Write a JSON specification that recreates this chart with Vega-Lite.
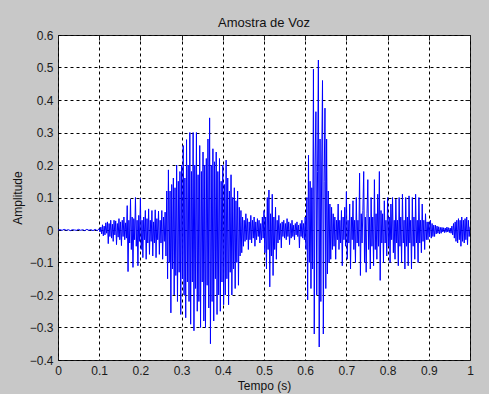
{
  "$schema": "https://vega.github.io/schema/vega-lite/v6.json",
  "autosize": {"type": "none"},
  "width": 412,
  "height": 325,
  "padding": {"left": 58, "top": 35, "right": 19, "bottom": 34},
  "background": "#c8c8c8",
  "view": {"fill": "white", "stroke": "#1a1a1a", "strokeWidth": 1},
  "title": {
    "text": "Amostra de Voz",
    "font": "Liberation Sans",
    "fontSize": 13,
    "fontWeight": "normal",
    "color": "#111",
    "offset": -1
  },
  "data": {
    "values": [
      {"t":0,"a":0},{"t":0.005,"a":0.001},{"t":0.01,"a":-0.001},{"t":0.015,"a":0.002},{"t":0.02,"a":-0.001},
      {"t":0.025,"a":0.001},{"t":0.03,"a":-0.002},{"t":0.035,"a":0.001},{"t":0.04,"a":0},{"t":0.045,"a":-0.001},
      {"t":0.05,"a":0.002},{"t":0.055,"a":-0.001},{"t":0.06,"a":0.001},{"t":0.065,"a":-0.002},{"t":0.07,"a":0.002},
      {"t":0.075,"a":-0.001},{"t":0.08,"a":0.001},{"t":0.085,"a":-0.002},{"t":0.09,"a":0.002},{"t":0.095,"a":-0.002},
      {"t":0.100,"a":0.004},{"t":0.102,"a":-0.006},{"t":0.104,"a":0.009},{"t":0.106,"a":-0.012},{"t":0.108,"a":0.016},
      {"t":0.110,"a":-0.018},{"t":0.112,"a":0.012},{"t":0.114,"a":-0.015},{"t":0.116,"a":0.022},{"t":0.118,"a":-0.01},
      {"t":0.120,"a":0.025},{"t":0.122,"a":-0.042},{"t":0.124,"a":0.02},{"t":0.126,"a":-0.02},{"t":0.128,"a":0.03},
      {"t":0.130,"a":-0.025},{"t":0.132,"a":0.018},{"t":0.134,"a":-0.035},{"t":0.136,"a":0.03},{"t":0.138,"a":-0.015},
      {"t":0.140,"a":0.028},{"t":0.142,"a":-0.045},{"t":0.144,"a":0.02},{"t":0.146,"a":-0.022},{"t":0.148,"a":0.035},
      {"t":0.150,"a":-0.03},{"t":0.152,"a":0.025},{"t":0.154,"a":-0.048},{"t":0.156,"a":0.03},{"t":0.158,"a":-0.02},
      {"t":0.160,"a":0.04},{"t":0.162,"a":-0.03},{"t":0.164,"a":0.022},{"t":0.166,"a":-0.025},
      {"t":0.168,"a":0.075},{"t":0.170,"a":-0.128},{"t":0.172,"a":0.03},{"t":0.174,"a":-0.04},{"t":0.176,"a":0.095},
      {"t":0.178,"a":-0.06},{"t":0.180,"a":0.04},{"t":0.182,"a":-0.115},{"t":0.184,"a":0.035},{"t":0.186,"a":-0.03},
      {"t":0.188,"a":0.1},{"t":0.190,"a":-0.05},{"t":0.192,"a":0.03},{"t":0.194,"a":-0.11},{"t":0.196,"a":0.045},
      {"t":0.198,"a":-0.035},{"t":0.200,"a":0.098},{"t":0.202,"a":-0.06},{"t":0.204,"a":0.03},{"t":0.206,"a":-0.085},
      {"t":0.208,"a":0.04},{"t":0.210,"a":-0.03},{"t":0.212,"a":0.06},{"t":0.214,"a":-0.09},{"t":0.216,"a":0.035},
      {"t":0.218,"a":-0.04},{"t":0.220,"a":0.065},{"t":0.222,"a":-0.075},{"t":0.224,"a":0.03},{"t":0.226,"a":-0.035},
      {"t":0.228,"a":0.06},{"t":0.230,"a":-0.08},{"t":0.232,"a":0.025},{"t":0.234,"a":-0.04},{"t":0.236,"a":0.062},
      {"t":0.238,"a":-0.085},{"t":0.240,"a":0.035},{"t":0.242,"a":-0.03},{"t":0.244,"a":0.058},{"t":0.246,"a":-0.075},
      {"t":0.248,"a":0.03},{"t":0.250,"a":-0.04},{"t":0.252,"a":0.06},{"t":0.254,"a":-0.09},{"t":0.256,"a":0.04},
      {"t":0.258,"a":-0.035},{"t":0.260,"a":0.055},{"t":0.262,"a":-0.08},
      {"t":0.264,"a":0.12},{"t":0.266,"a":-0.15},{"t":0.268,"a":0.185},{"t":0.270,"a":-0.1},{"t":0.272,"a":0.12},
      {"t":0.274,"a":-0.255},{"t":0.276,"a":0.14},{"t":0.278,"a":-0.12},{"t":0.280,"a":0.16},{"t":0.282,"a":-0.2},
      {"t":0.284,"a":0.13},{"t":0.286,"a":-0.14},{"t":0.288,"a":0.2},{"t":0.290,"a":-0.22},{"t":0.292,"a":0.15},
      {"t":0.294,"a":-0.13},{"t":0.296,"a":0.18},{"t":0.298,"a":-0.26},{"t":0.300,"a":0.2},{"t":0.302,"a":-0.15},
      {"t":0.304,"a":0.26},{"t":0.306,"a":-0.2},{"t":0.308,"a":0.16},{"t":0.310,"a":-0.27},{"t":0.312,"a":0.278},
      {"t":0.314,"a":-0.16},{"t":0.316,"a":0.2},{"t":0.318,"a":-0.22},{"t":0.320,"a":0.3},{"t":0.322,"a":-0.29},
      {"t":0.324,"a":0.18},{"t":0.326,"a":-0.16},{"t":0.328,"a":0.3},{"t":0.330,"a":-0.31},{"t":0.332,"a":0.2},
      {"t":0.334,"a":-0.18},{"t":0.336,"a":0.3},{"t":0.338,"a":-0.25},{"t":0.340,"a":0.17},{"t":0.342,"a":-0.22},
      {"t":0.344,"a":0.26},{"t":0.346,"a":-0.3},{"t":0.348,"a":0.18},{"t":0.350,"a":-0.16},{"t":0.352,"a":0.24},
      {"t":0.354,"a":-0.28},{"t":0.356,"a":0.2},{"t":0.358,"a":-0.3},{"t":0.360,"a":0.22},{"t":0.362,"a":-0.17},
      {"t":0.364,"a":0.28},{"t":0.366,"a":-0.24},{"t":0.368,"a":0.345},{"t":0.370,"a":-0.35},{"t":0.372,"a":0.2},
      {"t":0.374,"a":-0.22},{"t":0.376,"a":0.25},{"t":0.378,"a":-0.28},{"t":0.380,"a":0.21},{"t":0.382,"a":-0.15},
      {"t":0.384,"a":0.24},{"t":0.386,"a":-0.26},{"t":0.388,"a":0.18},{"t":0.390,"a":-0.2},{"t":0.392,"a":0.22},
      {"t":0.394,"a":-0.25},{"t":0.396,"a":0.15},{"t":0.398,"a":-0.16},{"t":0.400,"a":0.2},{"t":0.402,"a":-0.23},
      {"t":0.404,"a":0.14},{"t":0.406,"a":-0.2},{"t":0.408,"a":0.215},{"t":0.410,"a":-0.15},{"t":0.412,"a":0.16},
      {"t":0.414,"a":-0.23},{"t":0.416,"a":0.12},{"t":0.418,"a":-0.13},{"t":0.420,"a":0.17},{"t":0.422,"a":-0.2},
      {"t":0.424,"a":0.1},{"t":0.426,"a":-0.12},{"t":0.428,"a":0.13},{"t":0.430,"a":-0.18},{"t":0.432,"a":0.09},
      {"t":0.434,"a":-0.1},{"t":0.436,"a":0.12},{"t":0.438,"a":-0.17},{"t":0.440,"a":0.07},{"t":0.442,"a":-0.08},
      {"t":0.444,"a":0.06},{"t":0.446,"a":-0.07},
      {"t":0.448,"a":0.04},{"t":0.450,"a":-0.05},{"t":0.452,"a":0.03},{"t":0.454,"a":-0.035},{"t":0.456,"a":0.05},
      {"t":0.458,"a":-0.03},{"t":0.460,"a":0.035},{"t":0.462,"a":-0.06},{"t":0.464,"a":0.025},{"t":0.466,"a":-0.03},
      {"t":0.468,"a":0.045},{"t":0.470,"a":-0.04},{"t":0.472,"a":0.03},{"t":0.474,"a":-0.025},{"t":0.476,"a":0.04},
      {"t":0.478,"a":-0.05},{"t":0.480,"a":0.025},{"t":0.482,"a":-0.03},{"t":0.484,"a":0.035},{"t":0.486,"a":-0.02},
      {"t":0.488,"a":0.03},{"t":0.490,"a":-0.04},{"t":0.492,"a":0.02},{"t":0.494,"a":-0.03},{"t":0.496,"a":0.04},
      {"t":0.498,"a":-0.025},{"t":0.500,"a":0.06},{"t":0.502,"a":-0.07},{"t":0.504,"a":0.04},{"t":0.506,"a":-0.12},
      {"t":0.508,"a":0.1},{"t":0.510,"a":-0.06},{"t":0.512,"a":0.123},{"t":0.514,"a":-0.175},{"t":0.516,"a":0.05},
      {"t":0.518,"a":-0.08},{"t":0.520,"a":0.11},{"t":0.522,"a":-0.14},{"t":0.524,"a":0.04},{"t":0.526,"a":-0.06},
      {"t":0.528,"a":0.07},{"t":0.530,"a":-0.09},{"t":0.532,"a":0.03},{"t":0.534,"a":-0.04},{"t":0.536,"a":0.045},
      {"t":0.538,"a":-0.03},{"t":0.540,"a":0.02},{"t":0.542,"a":-0.055},{"t":0.544,"a":0.025},{"t":0.546,"a":-0.02},
      {"t":0.548,"a":0.03},{"t":0.550,"a":-0.025},{"t":0.552,"a":0.02},{"t":0.554,"a":-0.03},{"t":0.556,"a":0.035},
      {"t":0.558,"a":-0.02},{"t":0.560,"a":0.025},{"t":0.562,"a":-0.045},{"t":0.564,"a":0.02},{"t":0.566,"a":-0.025},
      {"t":0.568,"a":0.03},{"t":0.570,"a":-0.02},{"t":0.572,"a":0.015},{"t":0.574,"a":-0.03},{"t":0.576,"a":0.02},
      {"t":0.578,"a":-0.015},{"t":0.580,"a":0.025},{"t":0.582,"a":-0.02},{"t":0.584,"a":0.015},{"t":0.586,"a":-0.055},
      {"t":0.588,"a":0.02},{"t":0.590,"a":-0.02},{"t":0.592,"a":0.03},{"t":0.594,"a":-0.025},{"t":0.596,"a":0.02},
      {"t":0.598,"a":-0.03},
      {"t":0.600,"a":0.04},{"t":0.602,"a":-0.06},{"t":0.604,"a":0.1},{"t":0.606,"a":-0.215},{"t":0.608,"a":0.23},
      {"t":0.610,"a":-0.1},{"t":0.612,"a":0.15},{"t":0.614,"a":-0.18},{"t":0.616,"a":0.13},{"t":0.618,"a":-0.12},
      {"t":0.620,"a":0.495},{"t":0.622,"a":-0.32},{"t":0.624,"a":0.2},{"t":0.626,"a":0.364},{"t":0.628,"a":-0.2},
      {"t":0.630,"a":0.18},{"t":0.632,"a":0.523},{"t":0.634,"a":-0.36},{"t":0.636,"a":0.28},{"t":0.638,"a":-0.22},
      {"t":0.640,"a":0.2},{"t":0.642,"a":0.46},{"t":0.644,"a":-0.32},{"t":0.646,"a":0.15},{"t":0.648,"a":0.375},
      {"t":0.650,"a":-0.18},{"t":0.652,"a":0.28},{"t":0.654,"a":-0.135},{"t":0.656,"a":0.12},{"t":0.658,"a":-0.1},
      {"t":0.660,"a":0.08},{"t":0.662,"a":-0.09},{"t":0.664,"a":0.07},{"t":0.666,"a":-0.06},{"t":0.668,"a":0.05},
      {"t":0.670,"a":-0.05},{"t":0.672,"a":0.04},{"t":0.674,"a":-0.09},{"t":0.676,"a":0.03},{"t":0.678,"a":-0.03},
      {"t":0.680,"a":0.08},{"t":0.682,"a":-0.06},{"t":0.684,"a":0.03},{"t":0.686,"a":-0.04},{"t":0.688,"a":0.06},
      {"t":0.690,"a":-0.11},{"t":0.692,"a":0.04},{"t":0.694,"a":-0.03},{"t":0.696,"a":0.07},{"t":0.698,"a":-0.05},
      {"t":0.700,"a":0.118},{"t":0.702,"a":-0.09},{"t":0.704,"a":0.03},{"t":0.706,"a":-0.04},{"t":0.708,"a":0.08},
      {"t":0.710,"a":-0.12},{"t":0.712,"a":0.04},{"t":0.714,"a":-0.03},{"t":0.716,"a":0.09},{"t":0.718,"a":-0.06},
      {"t":0.720,"a":0.03},{"t":0.722,"a":-0.1},{"t":0.724,"a":0.1},{"t":0.726,"a":-0.04},{"t":0.728,"a":0.03},
      {"t":0.730,"a":-0.05},{"t":0.732,"a":0.175},{"t":0.734,"a":-0.14},{"t":0.736,"a":0.05},{"t":0.738,"a":-0.04},
      {"t":0.740,"a":0.06},{"t":0.742,"a":0.18},{"t":0.744,"a":-0.1},{"t":0.746,"a":0.04},{"t":0.748,"a":-0.13},
      {"t":0.750,"a":0.05},{"t":0.752,"a":0.155},{"t":0.754,"a":-0.06},{"t":0.756,"a":0.04},{"t":0.758,"a":-0.12},
      {"t":0.760,"a":0.1},{"t":0.762,"a":-0.05},{"t":0.764,"a":0.04},{"t":0.766,"a":-0.11},{"t":0.768,"a":0.155},
      {"t":0.770,"a":-0.06},{"t":0.772,"a":0.05},{"t":0.774,"a":-0.09},{"t":0.776,"a":0.11},{"t":0.778,"a":-0.05},
      {"t":0.780,"a":0.18},{"t":0.782,"a":-0.155},{"t":0.784,"a":0.06},{"t":0.786,"a":-0.04},{"t":0.788,"a":0.05},
      {"t":0.790,"a":-0.1},{"t":0.792,"a":0.09},{"t":0.794,"a":-0.04},{"t":0.796,"a":0.03},{"t":0.798,"a":-0.08},
      {"t":0.800,"a":0.1},{"t":0.802,"a":-0.05},{"t":0.804,"a":0.04},{"t":0.806,"a":-0.1},{"t":0.808,"a":0.08},
      {"t":0.810,"a":-0.03},{"t":0.812,"a":0.1},{"t":0.814,"a":-0.07},{"t":0.816,"a":0.03},{"t":0.818,"a":-0.09},
      {"t":0.820,"a":0.095},{"t":0.822,"a":-0.04},{"t":0.824,"a":0.03},{"t":0.826,"a":-0.11},{"t":0.828,"a":0.1},
      {"t":0.830,"a":-0.05},{"t":0.832,"a":0.04},{"t":0.834,"a":-0.1},{"t":0.836,"a":0.11},{"t":0.838,"a":-0.04},
      {"t":0.840,"a":0.03},{"t":0.842,"a":-0.12},{"t":0.844,"a":0.1},{"t":0.846,"a":-0.05},{"t":0.848,"a":0.04},
      {"t":0.850,"a":-0.11},{"t":0.852,"a":0.105},{"t":0.854,"a":-0.04},{"t":0.856,"a":0.03},{"t":0.858,"a":-0.12},
      {"t":0.860,"a":0.1},{"t":0.862,"a":-0.05},{"t":0.864,"a":0.04},{"t":0.866,"a":-0.09},{"t":0.868,"a":0.11},
      {"t":0.870,"a":-0.04},{"t":0.872,"a":0.03},{"t":0.874,"a":-0.1},{"t":0.876,"a":0.1},{"t":0.878,"a":-0.04},
      {"t":0.880,"a":0.03},{"t":0.882,"a":-0.07},{"t":0.884,"a":0.08},{"t":0.886,"a":-0.035},{"t":0.888,"a":0.03},
      {"t":0.890,"a":-0.06},{"t":0.892,"a":0.05},{"t":0.894,"a":-0.03},{"t":0.896,"a":0.025},{"t":0.898,"a":-0.03},
      {"t":0.900,"a":0.025},{"t":0.902,"a":-0.02},{"t":0.904,"a":0.03},{"t":0.906,"a":-0.025},{"t":0.908,"a":0.02},
      {"t":0.910,"a":-0.02},{"t":0.912,"a":0.015},{"t":0.914,"a":-0.02},{"t":0.916,"a":0.015},{"t":0.918,"a":-0.012},
      {"t":0.920,"a":0.012},{"t":0.922,"a":-0.01},{"t":0.924,"a":0.01},{"t":0.926,"a":-0.012},{"t":0.928,"a":0.008},
      {"t":0.930,"a":-0.01},{"t":0.932,"a":0.008},{"t":0.934,"a":-0.006},{"t":0.936,"a":0.007},{"t":0.938,"a":-0.008},
      {"t":0.940,"a":0.006},{"t":0.942,"a":-0.007},{"t":0.944,"a":0.009},{"t":0.946,"a":-0.006},{"t":0.948,"a":0.007},
      {"t":0.950,"a":-0.008},{"t":0.952,"a":0.006},{"t":0.954,"a":-0.01},{"t":0.956,"a":0.012},{"t":0.958,"a":-0.015},
      {"t":0.960,"a":0.02},{"t":0.962,"a":-0.025},{"t":0.964,"a":0.025},{"t":0.966,"a":-0.035},{"t":0.968,"a":0.03},
      {"t":0.970,"a":-0.04},{"t":0.972,"a":0.035},{"t":0.974,"a":-0.03},{"t":0.976,"a":0.03},{"t":0.978,"a":-0.05},
      {"t":0.980,"a":0.04},{"t":0.982,"a":-0.035},{"t":0.984,"a":0.03},{"t":0.986,"a":-0.04},{"t":0.988,"a":0.035},
      {"t":0.990,"a":-0.03},{"t":0.992,"a":0.04},{"t":0.994,"a":-0.045},{"t":0.996,"a":0.03},{"t":0.998,"a":-0.02},
      {"t":1.000,"a":0.01}
    ]
  },
  "layer": [
    {
      "mark": {"type": "line", "color": "#0000ff", "strokeWidth": 1, "clip": true, "interpolate": "linear"},
      "encoding": {
        "x": {
          "field": "t",
          "type": "quantitative",
          "scale": {"domain": [0, 1], "nice": false, "zero": false},
          "axis": {
            "title": "Tempo (s)",
            "orient": "bottom",
            "values": [0, 0.1, 0.2, 0.3, 0.4, 0.5, 0.6, 0.7, 0.8, 0.9, 1],
            "format": "~g",
            "titlePadding": 4
          }
        },
        "y": {
          "field": "a",
          "type": "quantitative",
          "scale": {"domain": [-0.4, 0.6], "nice": false, "zero": false},
          "axis": {
            "title": "Amplitude",
            "orient": "left",
            "values": [-0.4, -0.3, -0.2, -0.1, 0, 0.1, 0.2, 0.3, 0.4, 0.5, 0.6],
            "format": "~g",
            "titlePadding": 5
          }
        }
      }
    },
    {
      "mark": {"type": "line", "strokeOpacity": 0},
      "encoding": {
        "x": {
          "field": "t",
          "type": "quantitative",
          "scale": {"domain": [0, 1], "nice": false, "zero": false},
          "axis": {
            "title": null,
            "orient": "top",
            "values": [0, 0.1, 0.2, 0.3, 0.4, 0.5, 0.6, 0.7, 0.8, 0.9, 1],
            "labels": false,
            "grid": false,
            "ticks": true,
            "tickSize": -5,
            "tickColor": "#1a1a1a"
          }
        },
        "y": {
          "field": "a",
          "type": "quantitative",
          "scale": {"domain": [-0.4, 0.6], "nice": false, "zero": false},
          "axis": {
            "title": null,
            "orient": "right",
            "values": [-0.4, -0.3, -0.2, -0.1, 0, 0.1, 0.2, 0.3, 0.4, 0.5, 0.6],
            "labels": false,
            "grid": false,
            "ticks": true,
            "tickSize": -5,
            "tickColor": "#1a1a1a"
          }
        }
      }
    }
  ],
  "resolve": {"axis": {"x": "independent", "y": "independent"}},
  "config": {
    "font": "Liberation Sans",
    "axis": {
      "domain": false,
      "ticks": false,
      "tickSize": 0,
      "labelPadding": 5,
      "labelFont": "Liberation Sans",
      "labelFontSize": 12,
      "labelColor": "#1a1a1a",
      "labelFlush": false,
      "labelOverlap": false,
      "titleFont": "Liberation Sans",
      "titleFontSize": 12,
      "titleFontWeight": "normal",
      "titleColor": "#111",
      "grid": true,
      "gridColor": "#000000",
      "gridOpacity": 1,
      "gridWidth": 1,
      "gridDash": [3, 3]
    }
  }
}
